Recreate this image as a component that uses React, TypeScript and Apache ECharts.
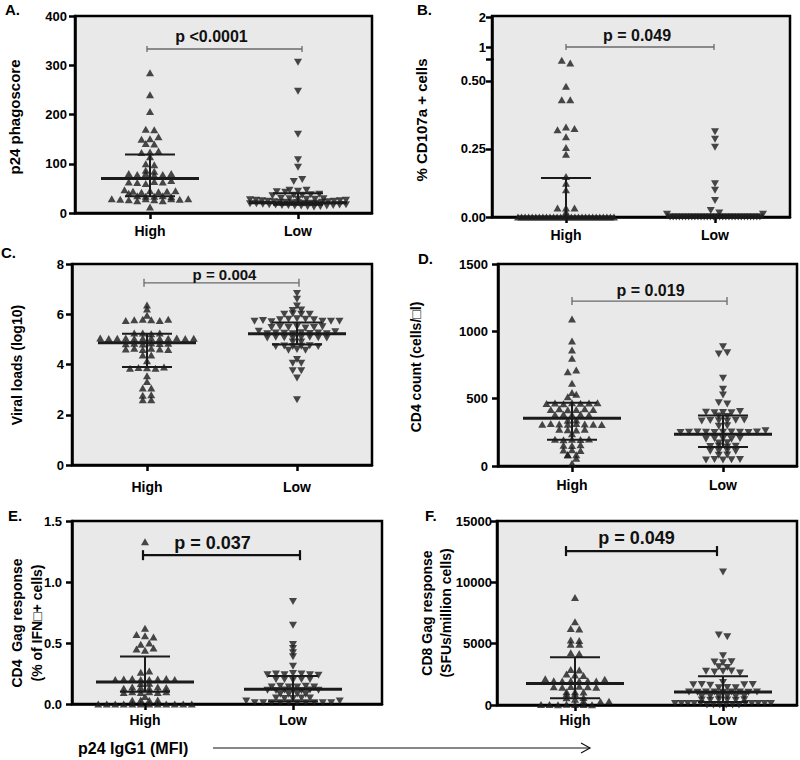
import React, { useEffect, useRef } from "react";
import * as echarts from "echarts";

// ---------- data ----------
const groups = ["High", "Low"];

// A. p24 phagoscore
const phagoHigh = [285, 240, 206, 170, 169, 141, 150, 151, 155, 140, 123, 124, 126, 114, 100, 98, 87, 85, 80, 78, 80, 77, 78, 80, 63, 62, 60, 64, 63, 66, 47, 44, 42, 40, 45, 43, 44, 45, 35, 34, 34, 35, 33, 29, 28, 27, 25, 29, 27, 25, 29, 28, 29, 12];
const phagoLow = [306, 247, 160, 108, 93, 64, 68, 43, 42, 46, 44, 46, 36, 35, 36, 37, 38, 30, 29, 28, 28, 27, 28, 29, 26, 25, 24, 23, 22, 22, 21, 21, 20, 20, 20, 22, 23, 24, 25, 26, 19, 19, 18, 17, 16, 15, 15, 14, 14, 13, 12, 13, 14, 15, 16, 17];
const phagoStats = [[70, 34, 119], [21, 17, 40]]; // median, q1, q3
const phagoTicks = [0, 100, 200, 300, 400];

// B. % CD107a + cells (broken axis)
const cd107High = [0.575, 0.565, 0.48, 0.43, 0.43, 0.32, 0.33, 0.325, 0.295, 0.255, 0.23, 0.149, 0.124, 0.1, 0.033, 0.033, 0.033, 0.018,
  0, 0, 0, 0, 0, 0, 0, 0, 0, 0, 0, 0, 0, 0, 0, 0, 0, 0, 0, 0, 0, 0, 0, 0, 0, 0, 0, 0];
const cd107Low = [0.313, 0.285, 0.256, 0.122, 0.098, 0.061, 0.024, 0.01,
  0, 0, 0, 0, 0, 0, 0, 0, 0, 0, 0, 0, 0, 0, 0.015, 0, 0, 0, 0, 0, 0, 0, 0, 0, 0, 0, 0, 0, 0, 0, 0, 0.01];
const cd107Stats = [[0, 0, 0.143], [0, 0, 0.005]];
const cd107LowerTicks = [0, 0.25, 0.5];
const cd107UpperTicks = [1, 2];

// C. Viral loads (log10)
const viralHigh = [6.37, 6.21, 5.96, 5.75, 5.78, 5.8, 5.78, 5.75, 5.8, 5.25, 5.25, 5.22, 5.25, 5.05, 5.03, 5.04, 5.05, 5.03, 5.04, 5.05, 5.03, 5.04, 5.05, 5.03, 5.04, 4.83, 4.85, 4.82, 4.86, 4.84, 4.85, 4.62, 4.65, 4.6, 4.65, 4.62, 4.6, 4.38, 4.38, 4.15, 3.85, 3.88, 3.87, 3.85, 3.9, 3.55, 3.32, 3.06, 3.06, 2.78, 2.8, 2.6, 2.6];
const viralLow = [6.83, 6.6, 6.33, 6.15, 6.17, 6.0, 6.02, 6.0, 6.0, 5.72, 5.75, 5.7, 5.78, 5.8, 5.82, 5.8, 5.78, 5.72, 5.72, 5.72, 5.47, 5.5, 5.47, 5.5, 5.45, 5.47, 5.5, 5.32, 5.22, 5.25, 5.24, 5.22, 5.26, 5.23, 5.25, 5.22, 5.3, 5.05, 5.08, 5.06, 5.05, 5.07, 5.08, 5.06, 5.05, 4.9, 4.9, 4.72, 4.74, 4.72, 4.73, 4.75, 4.72, 4.57, 4.6, 4.57, 4.2, 4.05, 4.05, 3.75, 3.75, 3.46, 2.6];
const viralStats = [[4.87, 3.9, 5.22], [5.22, 4.8, 5.67]];
const viralTicks = [0, 2, 4, 6, 8];

// D. CD4 count
const cd4High = [1092, 928, 861, 800, 700, 712, 614, 545, 515, 532, 465, 468, 462, 470, 466, 468, 470, 420, 425, 418, 420, 425, 420, 382, 385, 380, 384, 380, 340, 342, 310, 315, 312, 310, 315, 312, 310, 308, 272, 270, 268, 272, 240, 198, 195, 198, 196, 200, 155, 152, 158, 118, 120, 116, 85, 82, 84, 57, 20];
const cd4Low = [886, 832, 841, 651, 569, 527, 470, 460, 400, 396, 398, 396, 405, 372, 368, 335, 338, 336, 335, 340, 342, 295, 298, 248, 250, 252, 250, 248, 250, 252, 250, 248, 252, 262, 200, 205, 202, 198, 204, 170, 172, 145, 148, 142, 146, 110, 112, 114, 110, 80, 82, 45, 48, 44, 46, 48];
const cd4Stats = [[355, 195, 470], [235, 142, 375]];
const cd4Ticks = [0, 500, 1000, 1500];

// E. CD4 Gag response
const gagCd4High = [1.33, 0.62, 0.57, 0.56, 0.55, 0.49, 0.5, 0.45, 0.44, 0.46, 0.26, 0.27, 0.2, 0.205, 0.21, 0.2, 0.2, 0.205, 0.21, 0.2, 0.168, 0.17, 0.13, 0.14, 0.135, 0.13, 0.14, 0.135, 0.095, 0.1, 0.095, 0.1, 0.095, 0.1, 0.062, 0.03, 0.032, 0.03,
  0, 0, 0, 0, 0, 0, 0, 0, 0, 0, 0, 0, 0.032];
const gagCd4Low = [0.84, 0.646, 0.488, 0.455, 0.42, 0.387, 0.31, 0.24, 0.245, 0.24, 0.25, 0.245, 0.24, 0.235, 0.2, 0.2, 0.195, 0.2, 0.2, 0.14, 0.145, 0.14, 0.14, 0.145, 0.14, 0.112, 0.11, 0.115, 0.112, 0.11, 0.115, 0.112, 0.08, 0.08, 0.082, 0.08, 0.05, 0.045, 0.045, 0.05, 0.05, 0.025, 0.01, 0.01, 0.01, 0.01, 0.01, 0.01, 0.01, 0.01, 0.01, 0.01, 0.025];
const gagCd4Stats = [[0.18, 0.1, 0.39], [0.12, 0.02, 0.23]];
const gagCd4Ticks = [0, 0.5, 1.0, 1.5];

// F. CD8 Gag response
const gagCd8High = [8760, 6780, 6240, 6200, 5290, 5250, 4960, 4950, 4260, 4200, 2900, 2850, 2520, 2440, 2400, 2150, 1980, 1950, 1980, 1950, 1980, 1960, 2100, 1480, 1450, 1500, 1520, 1480, 1450, 900, 1080, 1080, 1050, 900, 600, 460, 620, 40, 50, 30, 60, 40, 50, 30, 280, 300, 320];
const gagCd8Low = [10850, 5700, 5560, 4015, 3500, 3450, 3520, 3120, 3060, 2750, 2700, 2750, 2780, 2600, 1840, 1650, 1680, 1620, 1400, 1420, 1400, 1650, 1680, 1050, 1040, 1060, 1050, 1040, 1060, 1050, 1040, 1050, 700, 720, 700, 710, 700, 720, 400, 380, 420, 400, 380, 420, 130, 130, 130, 130, 130, 10, 10, 10, 10, 10, 10, 130, 130, 130, 130, 130];
const gagCd8Stats = [[1750, 550, 3900], [1050, 250, 2350]];
const gagCd8Ticks = [0, 5000, 10000, 15000];

const pTexts = ["p <0.0001", "p = 0.049", "p = 0.004", "p = 0.019", "p = 0.037", "p = 0.049"];
const pLevels = [333, 1, 7.25, 1225, 1.22, 12550];

const panelLetters = ["A.", "B.", "C.", "D.", "E.", "F."];
const yTitles = [
  "p24 phagoscore",
  "% CD107a + cells",
  "Viral loads (log10)",
  "CD4 count (cells/\u25A1l)",
  "CD4  Gag response\n(% of IFN\u25A1+ cells)",
  "CD8 Gag response\n(SFUs/million cells)",
];
const bottomLabel = "p24 IgG1 (MFI)";

// ---------- styling / layout ----------
const FONT = '"Liberation Sans", Arial, Helvetica, sans-serif';
const BG = "#e9e9e9";
const INK = "#1b1b1b";
const MW = 98;
const QW = 50;

function rowOffsets(vals: number[], pxPerUnit: number, h = 3.5, sp = 8.5, maxW = 96) {
  const idx = vals.map((_, i) => i).sort((a, b) => vals[a] - vals[b] || a - b);
  const off = new Array(vals.length).fill(0);
  let i = 0;
  while (i < idx.length) {
    let j = i;
    const v0 = vals[idx[i]];
    while (j + 1 < idx.length && (vals[idx[j + 1]] - v0) * pxPerUnit < h) j++;
    const row = idx.slice(i, j + 1).sort((a, b) => a - b);
    const n = row.length;
    const s = n > 1 ? Math.min(sp, maxW / (n - 1)) : 0;
    row.forEach((k, r) => (off[k] = (r - (n - 1) / 2) * s));
    i = j + 1;
  }
  return off;
}

function xAxisOf(g: number, l: number, r: number, xH: number, xL: number, showLabels: boolean, margin: number) {
  const u = xL - xH;
  return {
    type: "value", gridIndex: g, min: -(xH - l) / u, max: 1 + (r - xL) / u,
    show: showLabels,
    axisLine: { show: true, onZero: false, lineStyle: { color: "#000", width: 2.5 } },
    axisTick: { show: true, customValues: [0, 1], length: 6, lineStyle: { color: "#000", width: 2.5 } },
    axisLabel: {
      show: true, customValues: [0, 1], formatter: (v: number) => groups[Math.round(v)] ?? "",
      margin, color: "#000", fontFamily: FONT, fontWeight: "bold", fontSize: 14,
    },
    splitLine: { show: false },
  };
}

function yAxisOf(g: number, min: number, max: number, ticks: number[], fmt: (v: number) => string, margin: number, extraTicks: number[] = []) {
  return {
    type: "value", gridIndex: g, min, max,
    axisLine: { show: true, onZero: false, lineStyle: { color: "#000", width: 2.5 } },
    axisTick: { show: true, customValues: [...ticks, ...extraTicks], length: 6, lineStyle: { color: "#000", width: 2.5 } },
    axisLabel: { customValues: ticks, formatter: fmt, margin, color: "#000", fontFamily: FONT, fontWeight: "bold", fontSize: 13 },
    splitLine: { show: false },
  };
}

function scatterSeries(g: number, vals: number[], cat: number, pxY: number, pxX: number, rotate: number) {
  const off = rowOffsets(vals, pxY);
  return {
    type: "scatter", xAxisIndex: g, yAxisIndex: g, silent: true, z: 3,
    symbol: "triangle", symbolSize: [8, 7], symbolRotate: rotate,
    itemStyle: { color: INK },
    data: vals.map((v, i) => [cat + off[i] / pxX, v]),
  };
}

function summarySeries(g: number, stats: number[][]) {
  return {
    type: "custom", xAxisIndex: g, yAxisIndex: g, silent: true, z: 5,
    data: stats.map((s, i) => [i, s[0], s[1], s[2]]),
    encode: { x: 0, y: 1 },
    renderItem: (_p: any, api: any) => {
      const x = api.value(0);
      const m = api.coord([x, api.value(1)]);
      const lo = api.coord([x, api.value(2)]);
      const hi = api.coord([x, api.value(3)]);
      const ln = (x1: number, y1: number, x2: number, y2: number, w: number) => ({
        type: "line", shape: { x1, y1, x2, y2 }, style: { stroke: INK, lineWidth: w },
      });
      return {
        type: "group",
        children: [
          ln(m[0], lo[1], m[0], hi[1], 2),
          ln(m[0] - QW / 2, lo[1], m[0] + QW / 2, lo[1], 2),
          ln(m[0] - QW / 2, hi[1], m[0] + QW / 2, hi[1], 2),
          ln(m[0] - MW / 2, m[1], m[0] + MW / 2, m[1], 3),
        ],
      };
    },
  };
}

type Look = { color: string; width: number; tick: number; font: number; dy: number; dx: number; bx0: number; bx1: number };
function bracketSeries(g: number, level: number, text: string, look: Look) {
  return {
    type: "custom", xAxisIndex: g, yAxisIndex: g, silent: true, z: 6,
    data: [[0, level, 1]],
    encode: { x: 0, y: 1 },
    renderItem: (_p: any, api: any) => {
      const a = api.coord([api.value(0), api.value(1)]);
      const b = api.coord([api.value(2), api.value(1)]);
      const x0 = a[0] + look.bx0, x1 = b[0] + look.bx1, y = a[1];
      const st = { stroke: look.color, lineWidth: look.width };
      return {
        type: "group",
        children: [
          { type: "line", shape: { x1: x0, y1: y, x2: x1, y2: y }, style: st },
          { type: "line", shape: { x1: x0, y1: y - look.tick, x2: x0, y2: y + look.tick }, style: st },
          { type: "line", shape: { x1: x1, y1: y - look.tick, x2: x1, y2: y + look.tick }, style: st },
          {
            type: "text", x: (x0 + x1) / 2 + look.dx, y: y - look.dy,
            style: { text, fill: "#111", font: `bold ${look.font}px ${FONT}`, align: "center", verticalAlign: "middle" },
          },
        ],
      };
    },
  };
}

const looks: Look[] = [
  { color: "#6a6a6a", width: 1.3, tick: 3, font: 16, dy: 12, dx: -13, bx0: -3, bx1: 4 },
  { color: "#6a6a6a", width: 1.3, tick: 3, font: 16, dy: 12, dx: -3, bx0: 0, bx1: -1 },
  { color: "#6a6a6a", width: 1.3, tick: 4, font: 15, dy: 8, dx: 3, bx0: -3, bx1: 2 },
  { color: "#6a6a6a", width: 1.3, tick: 4, font: 16, dy: 11, dx: 1, bx0: 0, bx1: 4 },
  { color: "#111", width: 2.2, tick: 5, font: 18, dy: 12, dx: -9, bx0: -2, bx1: 7 },
  { color: "#111", width: 2.2, tick: 5, font: 18, dy: 13, dx: -5, bx0: -9, bx1: -6 },
];

export default function App() {
  const ref = useRef<HTMLDivElement>(null);
  useEffect(() => {
    if (!ref.current) return;
    const chart = echarts.init(ref.current, null, { renderer: "svg" });
    const grids: any[] = [];
    const xAxes: any[] = [];
    const yAxes: any[] = [];
    const series: any[] = [];

    const std = (
      box: number[], xH: number, xL: number, yMin: number, yMax: number, ticks: number[],
      fmt: (v: number) => string, xm: number, ym: number,
      high: number[], low: number[], stats: number[][], pi: number
    ) => {
      const g = grids.length;
      const [l, t, r, b] = box;
      grids.push({ left: l, top: t, width: r - l, height: b - t, show: true, backgroundColor: BG, borderColor: "#000", borderWidth: 2.5 });
      xAxes.push(xAxisOf(g, l, r, xH, xL, true, xm));
      yAxes.push(yAxisOf(g, yMin, yMax, ticks, fmt, ym));
      const pxY = (b - t) / (yMax - yMin);
      const pxX = xL - xH;
      series.push(scatterSeries(g, high, 0, pxY, pxX, 0));
      series.push(scatterSeries(g, low, 1, pxY, pxX, 180));
      series.push(summarySeries(g, stats));
      series.push(bracketSeries(g, pLevels[pi], pTexts[pi], looks[pi]));
    };

    // A
    std([75, 16, 372, 213], 150, 298, 0, 400, phagoTicks, (v) => String(v), 11, 8, phagoHigh, phagoLow, phagoStats, 0);

    // B (broken axis: frame grid + lower and upper segments)
    {
      const l = 492, r = 790, xH = 566, xL = 715;
      const gFrame = grids.length;
      grids.push({ left: l, top: 16, width: r - l, height: 217 - 16, show: true, backgroundColor: BG, borderColor: "#000", borderWidth: 2.5 });
      xAxes.push({ type: "value", gridIndex: gFrame, min: 0, max: 1, show: false });
      yAxes.push({ type: "value", gridIndex: gFrame, min: 0, max: 1, show: false });

      const gLow = grids.length;
      grids.push({ left: l, top: 59, width: r - l, height: 217 - 59, show: false });
      xAxes.push(xAxisOf(gLow, l, r, xH, xL, true, 11));
      yAxes.push(yAxisOf(gLow, 0, 0.58, cd107LowerTicks, (v) => v.toFixed(2), 6, [0.58]));

      const gUp = grids.length;
      grids.push({ left: l, top: 17, width: r - l, height: 59 - 17, show: false });
      const xu = xAxisOf(gUp, l, r, xH, xL, false, 11);
      xAxes.push(xu);
      yAxes.push(yAxisOf(gUp, 0.6, 2, cd107UpperTicks, (v) => String(v), 6));

      const pxY = (217 - 59) / 0.58;
      const pxX = xL - xH;
      series.push(scatterSeries(gLow, cd107High, 0, pxY, pxX, 0));
      series.push(scatterSeries(gLow, cd107Low, 1, pxY, pxX, 180));
      series.push(summarySeries(gLow, cd107Stats));
      series.push(bracketSeries(gUp, pLevels[1], pTexts[1], looks[1]));
    }

    // C
    std([72, 264, 372, 465], 147, 297, 0, 8, viralTicks, (v) => String(v), 15, 8, viralHigh, viralLow, viralStats, 2);
    // D
    std([498, 264, 797, 466], 572, 723, 0, 1500, cd4Ticks, (v) => String(v), 12, 10, cd4High, cd4Low, cd4Stats, 3);
    // E
    std([72, 521, 382, 704], 145, 293, 0, 1.5, gagCd4Ticks, (v) => v.toFixed(1), 9, 10, gagCd4High, gagCd4Low, gagCd4Stats, 4);
    // F
    std([497, 521, 797, 705], 575, 723, 0, 15000, gagCd8Ticks, (v) => String(v), 8, 5, gagCd8High, gagCd8Low, gagCd8Stats, 5);

    const letterPos = [[5, 9], [417, 9], [1, 252], [418, 258], [8, 515], [425, 515]];
    const titlePos = [[14, 117, 15, 18], [421, 120, 15, 18], [17, 365, 14, 18], [416, 367, 14, 18], [27, 623, 14, 20], [436, 613, 14, 19]];

    const graphic: any[] = [];
    panelLetters.forEach((t, i) => {
      graphic.push({
        type: "text", x: letterPos[i][0], y: letterPos[i][1], silent: true,
        style: { text: t, fill: "#000", font: `bold 15px ${FONT}`, align: "left", verticalAlign: "middle" },
      });
    });
    yTitles.forEach((t, i) => {
      const [x, y, fs, lh] = titlePos[i];
      graphic.push({
        type: "text", x, y, rotation: Math.PI / 2, silent: true,
        style: { text: t, fill: "#000", font: `bold ${fs}px ${FONT}`, align: "center", verticalAlign: "middle", lineHeight: lh },
      });
    });
    graphic.push({
      type: "text", x: 78, y: 748, silent: true,
      style: { text: bottomLabel, fill: "#000", font: `bold 16px ${FONT}`, align: "left", verticalAlign: "middle" },
    });
    graphic.push({ type: "line", silent: true, shape: { x1: 213, y1: 748, x2: 590, y2: 748 }, style: { stroke: "#111", lineWidth: 1.2 } });
    graphic.push({
      type: "polyline", silent: true, shape: { points: [[581, 743], [590, 748], [581, 753]] },
      style: { stroke: "#111", lineWidth: 1.2, fill: null },
    });

    chart.setOption({
      animation: false,
      backgroundColor: "#fff",
      grid: grids,
      xAxis: xAxes,
      yAxis: yAxes,
      series,
      graphic,
    });
    return () => chart.dispose();
  }, []);
  return (
    <div
      ref={ref}
      style={{ position: "absolute", left: 0, top: 0, width: 800, height: 760, background: "#fff" }}
    />
  );
}
